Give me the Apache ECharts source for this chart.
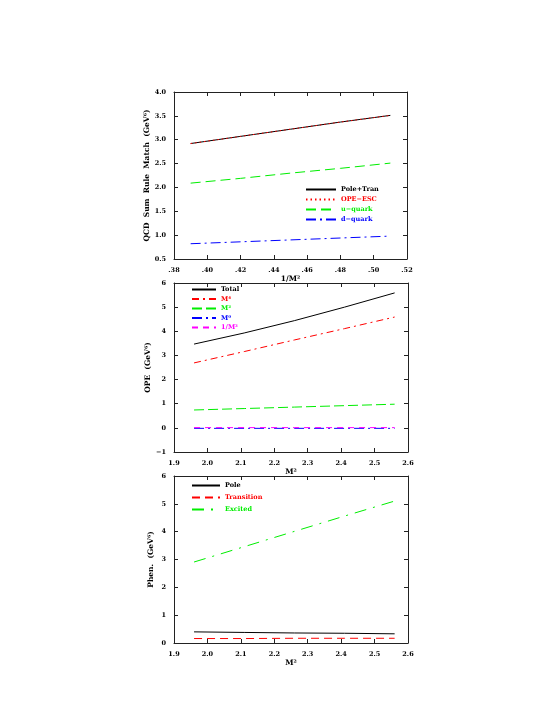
<!DOCTYPE html>
<html>
<head>
<meta charset="utf-8">
<script src="https://cdn.jsdelivr.net/npm/echarts@6/dist/echarts.min.js"></script>
<style>
  html, body { margin: 0; padding: 0; background: #fff; }
  #main { width: 553px; height: 715px; }
</style>
</head>
<body>
<div id="main"></div>
<script>
// top panel: 1/M^2
var matchX = [0.39, 0.42, 0.45, 0.48, 0.51];
var poleTran = [2.92, 3.07, 3.22, 3.37, 3.51];
var opeEsc = [2.92, 3.07, 3.22, 3.37, 3.51];
var uQuark = [2.09, 2.19, 2.30, 2.40, 2.51];
var dQuark = [0.82, 0.86, 0.90, 0.94, 0.98];

// middle + bottom panels: M^2
var msqX = [1.96, 2.11, 2.26, 2.41, 2.56];
var opeTotal = [3.47, 3.93, 4.44, 5.00, 5.59];
var opeM4 = [2.69, 3.16, 3.64, 4.11, 4.59];
var opeM2 = [0.74, 0.80, 0.86, 0.92, 0.98];
var opeM0 = [-0.02, -0.02, -0.02, -0.02, -0.02];
var opeInvM2 = [0.01, 0.01, 0.01, 0.01, 0.01];

var phenPole = [0.40, 0.38, 0.36, 0.35, 0.33];
var phenTrans = [0.16, 0.16, 0.17, 0.17, 0.17];
var phenExcited = [2.91, 3.46, 4.01, 4.56, 5.10];

var FONT = 'DejaVu Serif';
var AXC = '#222';

function pairs(xs, ys) {
  var out = [];
  for (var i = 0; i < xs.length; i++) out.push([xs[i], ys[i]]);
  return out;
}
function lbl(fmt) {
  return { color: '#000', fontFamily: FONT, fontWeight: 'bold', fontSize: 6.5, margin: 8, formatter: fmt };
}
function minusFmt(v) { return String(v).replace('-', '\u2212'); }

var grids = [
  { left: 174, top: 92, width: 233, height: 167 },
  { left: 174, top: 283, width: 234, height: 169 },
  { left: 174, top: 476, width: 234, height: 167 }
];

var xr = [
  { min: 0.38, max: 0.52, interval: 0.02, name: '1/M\u00b2', fmt: function (v) { return v.toFixed(2).replace('0.', '.'); } },
  { min: 1.9, max: 2.6, interval: 0.1, name: 'M\u00b2', fmt: function (v) { return v.toFixed(1); } },
  { min: 1.9, max: 2.6, interval: 0.1, name: 'M\u00b2', fmt: function (v) { return v.toFixed(1); } }
];
var yr = [
  { min: 0.5, max: 4.0, interval: 0.5, name: 'QCD  Sum  Rule  Match  (GeV\u2076)', fmt: function (v) { return v.toFixed(1); } },
  { min: -1, max: 6, interval: 1, name: 'OPE  (GeV\u2076)', fmt: minusFmt },
  { min: 0, max: 6, interval: 1, name: 'Phen.  (GeV\u2076)', fmt: minusFmt }
];

var xAxes = [], yAxes = [];
for (var g = 0; g < 3; g++) {
  xAxes.push({
    type: 'value', gridIndex: g, min: xr[g].min, max: xr[g].max, interval: xr[g].interval,
    name: xr[g].name, nameLocation: 'middle', nameGap: 16,
    nameTextStyle: { fontFamily: FONT, fontWeight: 'bold', fontSize: 7.5, color: '#000' },
    axisLine: { onZero: false, lineStyle: { color: AXC, width: 1 } },
    axisTick: { inside: true, length: 4, lineStyle: { color: AXC } },
    axisLabel: lbl(xr[g].fmt), splitLine: { show: false }
  });
  yAxes.push({
    type: 'value', gridIndex: g, min: yr[g].min, max: yr[g].max, interval: yr[g].interval,
    name: yr[g].name, nameLocation: 'middle', nameGap: 19,
    nameTextStyle: { fontFamily: FONT, fontWeight: 'bold', fontSize: 7.5, color: '#000' },
    axisLine: { show: true, onZero: false, lineStyle: { color: AXC, width: 1 } },
    axisTick: { show: true, inside: true, length: 4, lineStyle: { color: AXC } },
    axisLabel: lbl(yr[g].fmt), splitLine: { show: false }
  });
}
for (var g2 = 0; g2 < 3; g2++) {
  xAxes.push({
    type: 'value', gridIndex: g2, position: 'top', min: xr[g2].min, max: xr[g2].max, interval: xr[g2].interval,
    axisLine: { onZero: false, lineStyle: { color: AXC, width: 1 } },
    axisTick: { inside: true, length: 4, lineStyle: { color: AXC } },
    axisLabel: { show: false }, splitLine: { show: false }
  });
  yAxes.push({
    type: 'value', gridIndex: g2, position: 'right', min: yr[g2].min, max: yr[g2].max, interval: yr[g2].interval,
    axisLine: { show: true, onZero: false, lineStyle: { color: AXC, width: 1 } },
    axisTick: { show: true, inside: true, length: 4, lineStyle: { color: AXC } },
    axisLabel: { show: false }, splitLine: { show: false }
  });
}

var colors = {};
function line(name, g, xs, ys, color, type) {
  colors[name] = color;
  return {
    name: name, type: 'line', xAxisIndex: g, yAxisIndex: g,
    data: pairs(xs, ys), symbol: 'none', smooth: false, silent: true,
    lineStyle: { color: color, type: type, width: 1 },
    itemStyle: { color: color }
  };
}

var seriesList = [
  line('Pole+Tran', 0, matchX, poleTran, '#000', 'solid'),
  line('OPE\u2212ESC', 0, matchX, opeEsc, '#ff0000', [1.5, 3]),
  line('u\u2212quark', 0, matchX, uQuark, '#00ee00', [10, 5]),
  line('d\u2212quark', 0, matchX, dQuark, '#0000ff', [10, 4, 2, 4]),

  line('Total', 1, msqX, opeTotal, '#000', 'solid'),
  line('M\u2074', 1, msqX, opeM4, '#ff0000', [7, 4, 2, 4]),
  line('M\u00b2', 1, msqX, opeM2, '#00ee00', [10, 4]),
  line('M\u2070', 1, msqX, opeM0, '#0000ff', [10, 4, 2, 4]),
  line('1/M\u00b2', 1, msqX, opeInvM2, '#ff00ff', [6, 5]),

  line('Pole', 2, msqX, phenPole, '#000', 'solid'),
  line('Transition', 2, msqX, phenTrans, '#ff0000', [8, 5]),
  line('Excited', 2, msqX, phenExcited, '#00ee00', [12, 7, 2, 7])
];

function legendItem(name) {
  return { name: name, textStyle: { color: colors[name] } };
}
var legTxt = { fontFamily: FONT, fontWeight: 'bold', fontSize: 6.5 };
// hide the symbol, keep the inherited (coloured, dashed) line
var legItemStyle = { opacity: 0 };

var option = {
  animation: false,
  backgroundColor: '#fff',
  grid: grids,
  xAxis: xAxes,
  yAxis: yAxes,
  legend: [
    {
      left: 305, top: 186, padding: 0, orient: 'vertical', itemWidth: 30, itemHeight: 7, itemGap: 3,
      textStyle: legTxt, selectedMode: false, itemStyle: legItemStyle,
      data: ['Pole+Tran', 'OPE\u2212ESC', 'u\u2212quark', 'd\u2212quark'].map(legendItem)
    },
    {
      left: 191, top: 286, padding: 0, orient: 'vertical', itemWidth: 24, itemHeight: 6, itemGap: 2.5,
      textStyle: legTxt, selectedMode: false, itemStyle: legItemStyle,
      data: ['Total', 'M\u2074', 'M\u00b2', 'M\u2070', '1/M\u00b2'].map(legendItem)
    },
    {
      left: 191, top: 482, padding: 0, orient: 'vertical', itemWidth: 28, itemHeight: 7, itemGap: 5,
      textStyle: legTxt, selectedMode: false, itemStyle: legItemStyle,
      data: ['Pole', 'Transition', 'Excited'].map(legendItem)
    }
  ],
  series: seriesList
};

var myChart = echarts.init(document.getElementById('main'));
myChart.setOption(option);
</script>
</body>
</html>
